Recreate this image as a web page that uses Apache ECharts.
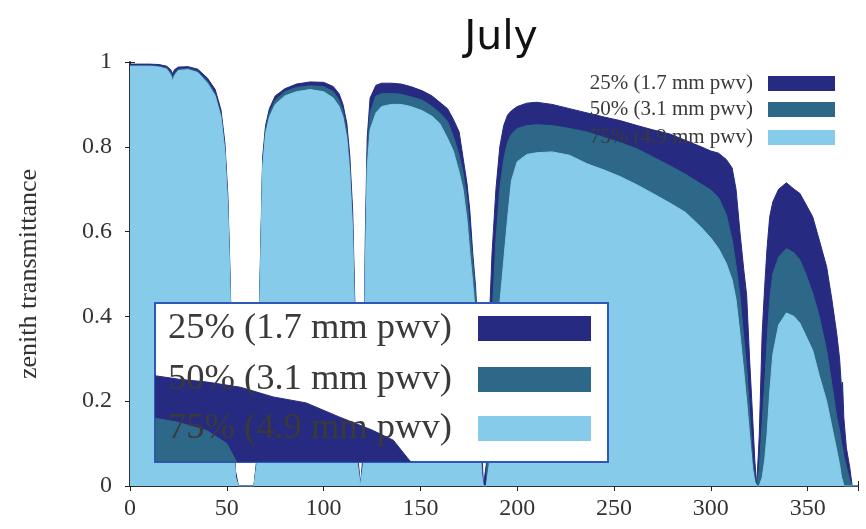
<!DOCTYPE html>
<html><head><meta charset="utf-8">
<script src="https://cdn.jsdelivr.net/npm/echarts@6/dist/echarts.min.js"></script>
<style>html,body{margin:0;padding:0;background:#fff}#c{width:866px;height:529px}</style>
</head><body><div id="c"></div>
<script>
const title = 'July';
const yAxisName = 'zenith transmittance';
const seriesNames = ['25% (1.7 mm pwv)', '50% (3.1 mm pwv)', '75% (4.9 mm pwv)'];
const xTicks = [0, 50, 100, 150, 200, 250, 300, 350];
const yTicks = [0, 0.2, 0.4, 0.6, 0.8, 1];

const freqGHz = [0,5,10,15,19,21,22,23,25,30,35,40,44,47,49,50.5,51.5,52.5,53.5,54.5,56,60,64,
  65.5,67,68.5,70,72,75,80,86,93,100,105,108,110,112,113.5,115,116.5,117.5,119,
  120.5,121.5,122.5,124,127,130,135,140,145,151,156,160,164,167,170,172,174,175.5,177,178.5,180,181.5,182.5,
  184,185.5,187,189,191,193,195,197,200,205,210,218,227,236,245,253,262,270,279,287,295,300,304,308,311,313,315,317,318.5,320,321.6,322.7,323.7,
  325,326.5,327.8,329,330.4,332,335,339,343,346,349,352.6,356,359.8,362.5,365,366.5,367.5,368,368.7,370,371.7,373,376];

const pwv25 = [.995,.995,.995,.994,.99,.982,.972,.982,.988,.989,.983,.962,.935,.887,.81,.69,.53,.34,.15,.035,0,0,0,
  .065,.46,.775,.85,.89,.92,.937,.948,.953,.952,.942,.925,.90,.855,.78,.65,.36,.08,0,
  .08,.58,.82,.915,.945,.95,.95,.948,.942,.932,.92,.905,.89,.865,.835,.775,.715,.65,.55,.47,.33,.12,0,
  .05,.38,.55,.70,.80,.85,.875,.885,.895,.903,.905,.90,.89,.88,.87,.862,.85,.84,.83,.815,.80,.79,.785,.77,.75,.70,.60,.51,.45,.30,.16,.06,0,
  .12,.36,.47,.56,.635,.67,.70,.715,.70,.69,.665,.635,.58,.517,.44,.36,.30,.23,.245,.16,.09,.045,0,0];

const pwv50 = [.992,.992,.992,.99,.986,.975,.962,.974,.983,.985,.978,.955,.925,.876,.797,.67,.51,.31,.13,.025,0,0,0,
  .055,.44,.76,.84,.88,.91,.93,.94,.944,.942,.93,.91,.885,.835,.76,.62,.32,.06,0,
  .06,.53,.78,.88,.92,.925,.926,.924,.918,.91,.895,.88,.86,.825,.78,.74,.68,.60,.53,.45,.28,.06,0,
  0,.20,.40,.58,.70,.77,.81,.83,.843,.85,.852,.85,.843,.835,.822,.81,.795,.776,.755,.735,.712,.698,.68,.64,.58,.52,.45,.35,.28,.18,.06,.02,0,
  .04,.15,.24,.34,.44,.50,.54,.56,.55,.533,.50,.455,.40,.32,.24,.163,.13,.10,.09,.07,.045,.015,0,0];

const pwv75 = [.99,.99,.99,.988,.983,.97,.955,.968,.98,.982,.975,.95,.92,.87,.79,.66,.50,.30,.12,.02,0,0,0,
  .05,.43,.75,.83,.87,.90,.92,.93,.935,.93,.915,.895,.87,.82,.74,.60,.30,.05,0,
  .05,.50,.75,.84,.88,.895,.90,.90,.895,.885,.872,.855,.82,.79,.74,.70,.63,.55,.48,.40,.22,.03,0,
  0,.05,.15,.30,.43,.53,.63,.72,.765,.782,.786,.788,.78,.76,.745,.73,.71,.69,.667,.645,.61,.585,.56,.525,.486,.44,.36,.27,.20,.12,.04,.01,0,
  0,.02,.06,.12,.22,.31,.38,.408,.40,.384,.355,.32,.26,.20,.14,.085,.05,.02,.014,0,0,0,0,0];

// values visible inside the large legend box
const boxFreq = [13,25,40,57,74,91,108,125,136,143,145];
const boxNavy = [.26,.252,.245,.233,.21,.196,.163,.132,.108,.068,.057];
const boxTealFreq = [13,25,40,50,55];
const boxTeal = [.16,.15,.13,.10,.057];

const colors = ['#262a80', '#2d6889', '#86cbea'];
const serif = '"Liberation Serif","Times New Roman",serif';

const pairs = (xs, ys) => xs.map((x, i) => [x, ys[i]]);
const series = [pwv25, pwv50, pwv75].map((ys, i) => ({
  name: seriesNames[i], type: 'line', data: pairs(freqGHz, ys), showSymbol: false,
  lineStyle: { color: colors[i], width: 1 }, areaStyle: { color: colors[i], opacity: 1 },
  z: 2 + i, silent: true, animation: false
}));
series.push({
  type: 'line', data: pairs(boxFreq, boxNavy), showSymbol: false, z: 60,
  lineStyle: { color: colors[0], width: 1 }, areaStyle: { color: colors[0], opacity: 1, origin: 0.057 },
  silent: true, animation: false
});
series.push({
  type: 'line', data: pairs(boxTealFreq, boxTeal), showSymbol: false, z: 61,
  lineStyle: { color: colors[1], width: 1 }, areaStyle: { color: colors[1], opacity: 1, origin: 0.057 },
  silent: true, animation: false
});

const smallLegend = [];
seriesNames.forEach((n, i) => {
  const yc = [83, 109, 137][i];
  smallLegend.push({ type: 'text', z: 80, style: { text: n, x: 753, y: yc, align: 'right', verticalAlign: 'middle', font: '21px ' + serif, fill: '#3a3a3a' } });
  smallLegend.push({ type: 'rect', z: 80, shape: { x: 768, y: yc - 7, width: 67, height: 15 }, style: { fill: colors[i] } });
});
const bigLegend = [{ type: 'rect', z: 50, shape: { x: 155, y: 303, width: 453, height: 159 }, style: { fill: '#fff', stroke: '#2f57b8', lineWidth: 2 } }];
seriesNames.forEach((n, i) => {
  const yc = [328, 379, 428][i];
  bigLegend.push({ type: 'text', z: 80, style: { text: n, x: 168, y: yc, align: 'left', verticalAlign: 'middle', font: '36.5px ' + serif, fill: '#3a3a3a' } });
  bigLegend.push({ type: 'rect', z: 80, shape: { x: 478, y: yc - 12, width: 113, height: 25 }, style: { fill: colors[i] } });
});

const chart = echarts.init(document.getElementById('c'), null, { renderer: 'canvas' });
const tickFmt = v => xTicks.includes(v) ? String(v) : '';
chart.setOption({
  animation: false,
  backgroundColor: '#fff',
  title: { text: title, left: 496, textAlign: 'center', top: 13, textStyle: { fontFamily: '"DejaVu Sans",sans-serif', fontSize: 41, fontWeight: 'normal', color: '#111' } },
  grid: { left: 130, right: 8, top: 62, bottom: 43 },
  xAxis: [
    { type: 'value', min: 0, max: 376, interval: 50, position: 'bottom',
      axisLine: { lineStyle: { color: '#222', width: 1.5 } }, axisTick: { inside: true, length: 5, lineStyle: { color: '#222' } },
      axisLabel: { formatter: tickFmt, fontFamily: serif, fontSize: 24, color: '#333', margin: 11 }, splitLine: { show: false } },
    { type: 'value', min: 0, max: 376, interval: 50, position: 'top',
      axisLine: { lineStyle: { color: '#222', width: 1.5 } }, axisTick: { inside: true, length: 5, lineStyle: { color: '#222' } },
      axisLabel: { show: false }, splitLine: { show: false } }
  ],
  yAxis: [
    { type: 'value', min: 0, max: 1, interval: 0.2, name: yAxisName, nameLocation: 'middle', nameGap: 88, nameRotate: 90,
      nameTextStyle: { fontFamily: serif, fontSize: 26, color: '#333' },
      axisLine: { show: true, lineStyle: { color: '#222', width: 1.5 } }, axisTick: { show: true, inside: true, length: 5, lineStyle: { color: '#222' } },
      axisLabel: { formatter: v => yTicks.includes(Math.round(v * 10) / 10) ? String(Math.round(v * 10) / 10) : '', fontFamily: serif, fontSize: 24, color: '#333', margin: 18 }, splitLine: { show: false } },
    { type: 'value', min: 0, max: 1, interval: 0.2, position: 'right',
      axisLine: { show: true, lineStyle: { color: '#222', width: 1.5 } }, axisTick: { show: true, inside: true, length: 5, lineStyle: { color: '#222' } },
      axisLabel: { show: false }, splitLine: { show: false } }
  ],
  graphic: { elements: bigLegend.concat(smallLegend) },
  series: series
});
</script></body></html>
